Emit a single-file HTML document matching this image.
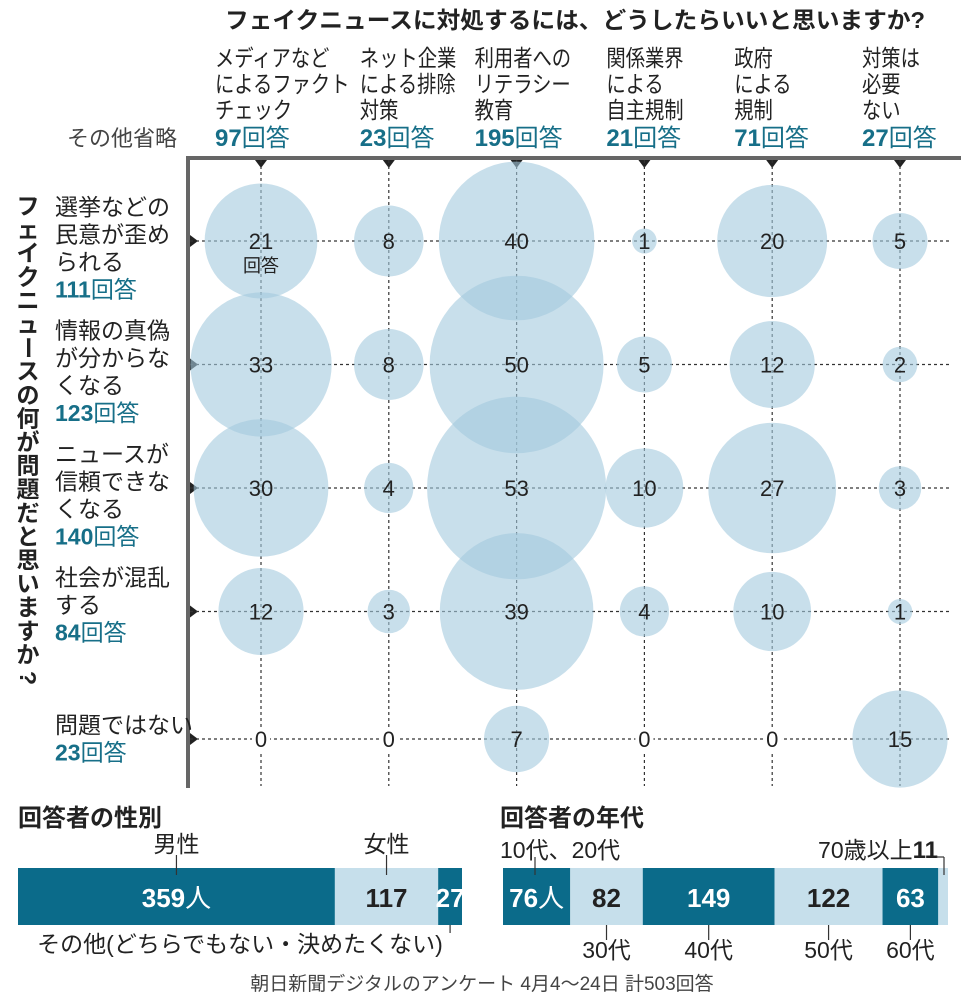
<!DOCTYPE html>
<html><head><meta charset="utf-8">
<style>
html,body{margin:0;padding:0;background:#fff;}
svg{display:block;font-family:"Liberation Sans","Noto Sans CJK JP",sans-serif;}
.t{font-size:22px;fill:#222;}
.b{font-weight:bold;}
.teal{fill:#176f88;font-weight:bold;}
</style></head>
<body>
<svg id="c" width="965" height="1000" viewBox="0 0 965 1000">
<text x="575" y="28" text-anchor="middle" class="t b" style="font-size:23px" textLength="700" lengthAdjust="spacingAndGlyphs">フェイクニュースに対処するには、どうしたらいいと思いますか?</text>
<g id="colHeads"></g>
<text x="122" y="146" text-anchor="middle" class="t" style="fill:#444">その他省略</text>
<rect x="186" y="156" width="775" height="4" fill="#666"/>
<rect x="186" y="156" width="4" height="632" fill="#666"/>
<g id="grid"></g>
<g id="bubbles"></g>
<g id="labels"></g>
<g id="rowHeads"></g>
<g id="ytitle"></g>
<text x="18" y="826" class="t b" style="font-size:24px">回答者の性別</text>
<text x="500" y="826" class="t b" style="font-size:24px">回答者の年代</text>
<g id="gender"></g>
<g id="age"></g>
<text x="482" y="990" text-anchor="middle" class="t" style="font-size:19px;fill:#444">朝日新聞デジタルのアンケート 4月4～24日 計503回答</text>
</svg>
<script>
const colLabels=[["メディアなど","によるファクト","チェック"],["ネット企業","による排除","対策"],["利用者への","リテラシー","教育"],["関係業界","による","自主規制"],["政府","による","規制"],["対策は","必要","ない"]];
const colTotals=[97,23,195,21,71,27];
const rowLabels=[["選挙などの","民意が歪め","られる"],["情報の真偽","が分からな","くなる"],["ニュースが","信頼できな","くなる"],["社会が混乱","する"],["問題ではない"]];
const rowTotals=[111,123,140,84,23];
const values=[[21,8,40,1,20,5],[33,8,50,5,12,2],[30,4,53,10,27,3],[12,3,39,4,10,1],[0,0,7,0,0,15]];
const genderVals=[359,117,27];
const genderNames=["男性","女性","その他(どちらでもない・決めたくない)"];
const ageVals=[76,82,149,122,63,11];
const ageNames=["10代、20代","30代","40代","50代","60代","70歳以上"];
const yTitle="フェイクニュースの何が問題だと思いますか?";
const headerOffset=[-46,-29,-42,-38,-38,-38];

const NS="http://www.w3.org/2000/svg";
function mk(tag,attrs,parent,txt){const e=document.createElementNS(NS,tag);for(const k in attrs)e.setAttribute(k,attrs[k]);if(txt!==undefined)e.textContent=txt;parent.appendChild(e);return e;}
const xCol=i=>261+i*127.8;
const yRow=j=>241+j*123.5+(j==4?4:0);
const rScale=v=>12.3*Math.sqrt(v);
const g=id=>document.getElementById(id);

[...yTitle].forEach((ch,k)=>{
  const y=206+k*23.6;
  const rot=(ch=="ー"||ch=="?");
  const t=mk('text',{x:28,y:y+8,'text-anchor':'middle',class:'t b',style:'font-size:23px',transform:rot?`rotate(90 28 ${y})`:''},g('ytitle'),ch);
  
  
});

colLabels.forEach((ls,i)=>{
  const x=xCol(i)+headerOffset[i];
  ls.forEach((l,k)=>{
    const t=mk('text',{x:0,y:0,class:'t',style:'font-size:23px',transform:`translate(${x},${66+k*26}) scale(0.84,1)`},g('colHeads'),l);
    
    });
  const t=mk('text',{x:x,y:146,class:'t teal',style:'font-size:24px'},g('colHeads'));
  
  
  mk('tspan',{},t,colTotals[i]);mk('tspan',{style:'font-weight:normal'},t,'回答');
  const m=mk('path',{d:`M${xCol(i)-6},160 L${xCol(i)+6},160 L${xCol(i)},168 Z`,fill:'#222'},g('grid'));
  
  
  const l=mk('line',{x1:xCol(i),y1:160,x2:xCol(i),y2:786,stroke:'#333','stroke-width':1.2,'stroke-dasharray':'3,3'},g('grid'));
  
  
});
rowLabels.forEach((ls,j)=>{
  const y=yRow(j);
  const y0=y-26;
  ls.forEach((l,k)=>{const t=mk('text',{x:55,y:y0+(j==4?20:0)+k*27.5,class:'t',style:'font-size:23px'},g('rowHeads'),l);
    
    });
  const t=mk('text',{x:55,y:y0+(j==4?20:0)+ls.length*27.5,class:'t teal',style:'font-size:23px'},g('rowHeads'));
  
  
  mk('tspan',{},t,rowTotals[j]);mk('tspan',{style:'font-weight:normal'},t,'回答');
  const m=mk('path',{d:`M190,${y-6} L198,${y} L190,${y+6} Z`,fill:'#222'},g('grid'));
  
  
  const l=mk('line',{x1:190,y1:y,x2:950,y2:y,stroke:'#333','stroke-width':1.2,'stroke-dasharray':'3,3'},g('grid'));
  
  
});
values.forEach((row,j)=>row.forEach((v,i)=>{
  if(v>0){const c=mk('ellipse',{cx:xCol(i),cy:yRow(j),rx:rScale(v),ry:rScale(v)*1.02,fill:'#a3c9de','fill-opacity':0.6},g('bubbles'));
    
    }
  const s=String(v);const w=s.length*12+6;
  const bg=mk('rect',{x:xCol(i)-w/2,y:yRow(j)-12,width:w,height:24,fill:v>0?'none':'#fff'},g('labels'));
  
  
  const t=mk('text',{x:xCol(i),y:yRow(j)+8,'text-anchor':'middle',class:'t'},g('labels'),s);
  
  
}));
{const t=mk('text',{x:xCol(0),y:yRow(0)+31,'text-anchor':'middle',class:'t',style:'font-size:18px'},g('labels'),'回答');
 
 }

function stacked(vals,x0,x1,parent){
  const tot=vals.reduce((a,b)=>a+b,0);let x=x0;const segs=[];
  vals.forEach((v,i)=>{const w=(x1-x0)*v/tot;const dark=i%2==0;
    const r=mk('rect',{x:x,y:868,width:w,height:57,fill:dark?'#0b6b8a':'#c6dfeb'},parent);
    
    
    segs.push([x,w,dark]);x+=w;});
  return segs;
}
const gs=stacked(genderVals,18,462,g('gender'));
genderVals.forEach((v,i)=>{const [x,w,d]=gs[i];
  const t=mk('text',{x:x+w/2,y:907,'text-anchor':'middle',class:'t b',style:'font-size:26px;fill:'+(d?'#fff':'#222')},g('gender'));
  
  
  mk('tspan',{},t,v);if(i==0)mk('tspan',{style:'font-weight:normal'},t,'人');
  const ln=mk('line',{x1:x+w/2,y1:i<2?855:925,x2:x+w/2,y2:i<2?875:933,stroke:'#333','stroke-width':1.2},g('gender'));
  
  
  const lt=mk('text',{x:i<2?x+w/2:240,y:i<2?852:952,'text-anchor':'middle',class:'t',style:'font-size:23px'},g('gender'),genderNames[i]);
  
  
});
const as=stacked(ageVals,503,948,g('age'));
ageVals.forEach((v,i)=>{const [x,w,d]=as[i];
  if(i<5){const t=mk('text',{x:x+w/2,y:907,'text-anchor':'middle',class:'t b',style:'font-size:26px;fill:'+(d?'#fff':'#222')},g('age'));
    
    
    mk('tspan',{},t,v);if(i==0)mk('tspan',{style:'font-weight:normal'},t,'人');}
  const top=(i==0||i==5);
  const cx=i==0?535:(i==5?944:x+w/2);
  const ln=mk('line',{x1:cx,y1:top?857:925,x2:cx,y2:top?875:940,stroke:'#333','stroke-width':1.2},g('age'));
  
  
  let lt;
  if(i==0) lt=mk('text',{x:500,y:858,class:'t',style:'font-size:23px'},g('age'),ageNames[0]);
  else if(i==5){lt=mk('text',{x:938,y:858,'text-anchor':'end',class:'t',style:'font-size:23px'},g('age'));mk('tspan',{},lt,ageNames[5]);mk('tspan',{class:'b',style:'font-size:24px'},lt,v);
    const h=mk('line',{x1:936,y1:857,x2:944,y2:857,stroke:'#333','stroke-width':1.2},g('age'));
    
    }
  else lt=mk('text',{x:x+w/2,y:958,'text-anchor':'middle',class:'t',style:'font-size:23px'},g('age'),ageNames[i]);
  
  
});
</script>
</body></html>
